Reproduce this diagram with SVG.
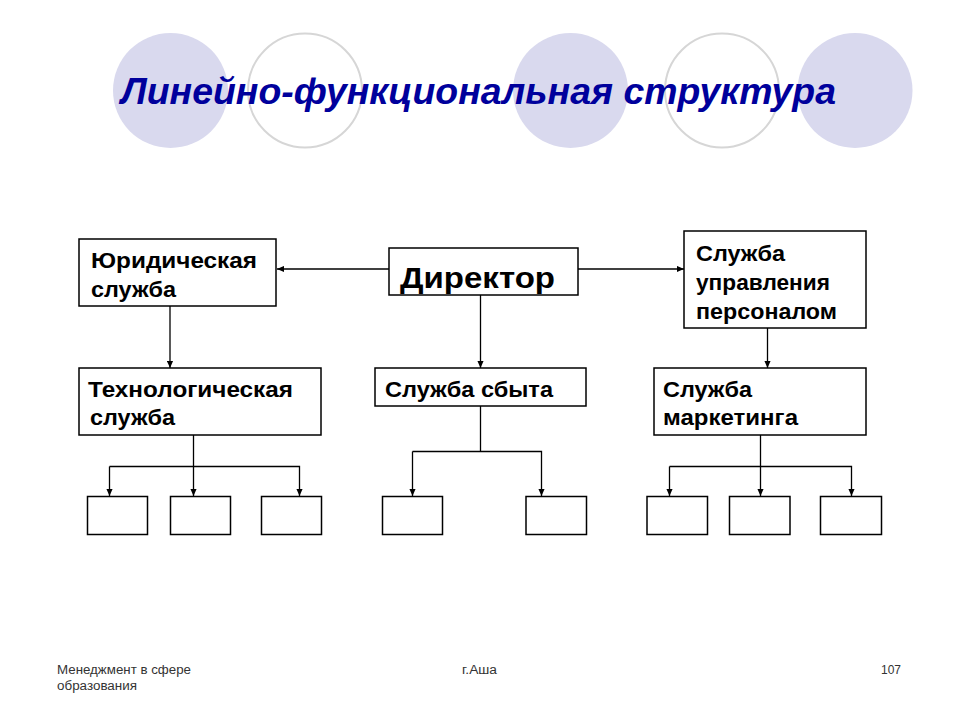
<svg xmlns="http://www.w3.org/2000/svg" width="960" height="720" viewBox="0 0 960 720">
<style>
.bg{fill:#ffffff}
.dot{fill:#d9d9ee}
.ring{fill:#ffffff;stroke:#d6d6d6;stroke-width:2}
.title{font-family:"Liberation Sans",Arial,sans-serif;font-weight:bold;font-style:italic;font-size:36px;fill:#00009c}
.box{fill:#ffffff;stroke:#000000;stroke-width:1.5}
.lbl{font-family:"Liberation Sans",Arial,sans-serif;font-weight:bold;font-size:22px;fill:#000000}
.big{font-size:30px}
.con{fill:none;stroke:#000000;stroke-width:1.3}
.foot{font-family:"Liberation Sans",Arial,sans-serif;font-size:12px;fill:#333333}
</style>
<defs>
<marker id="ah" viewBox="0 0 8 8" refX="8" refY="4" markerWidth="7" markerHeight="7" markerUnits="userSpaceOnUse" orient="auto">
<path d="M0,0.5 L8,4 L0,7.5 z" fill="#000000"/>
</marker>
</defs>
<rect class="bg" x="0" y="0" width="960" height="720"/>
<g id="decor">
<ellipse class="dot" cx="170.5" cy="90.5" rx="57.5" ry="57.5"/>
<ellipse class="ring" cx="305" cy="90.5" rx="57" ry="57"/>
<ellipse class="dot" cx="570.5" cy="90.5" rx="57.5" ry="57.5"/>
<ellipse class="ring" cx="722" cy="90.5" rx="57" ry="57"/>
<ellipse class="dot" cx="855" cy="90.5" rx="57.5" ry="57.5"/>
</g>
<text id="title" class="title" x="121" y="104" textLength="715" lengthAdjust="spacingAndGlyphs">Линейно-функциональная структура</text>
<g id="connectors">
<line class="con" x1="389" y1="269" x2="277" y2="269" marker-end="url(#ah)"/>
<line class="con" x1="578" y1="269" x2="684" y2="269" marker-end="url(#ah)"/>
<line class="con" x1="170" y1="306" x2="170" y2="368" marker-end="url(#ah)"/>
<line class="con" x1="480.5" y1="295" x2="480.5" y2="368" marker-end="url(#ah)"/>
<line class="con" x1="767.5" y1="328" x2="767.5" y2="368" marker-end="url(#ah)"/>
<line class="con" x1="193.5" y1="435" x2="193.5" y2="496" marker-end="url(#ah)"/>
<path class="con" d="M109.5,466.5 H299.5 V496" marker-end="url(#ah)"/>
<line class="con" x1="109.5" y1="466.5" x2="109.5" y2="496" marker-end="url(#ah)"/>
<path class="con" d="M480.5,406 V451.5"/>
<path class="con" d="M412.5,451.5 H541.5 V496" marker-end="url(#ah)"/>
<line class="con" x1="412.5" y1="451.5" x2="412.5" y2="496" marker-end="url(#ah)"/>
<line class="con" x1="760.5" y1="435" x2="760.5" y2="496" marker-end="url(#ah)"/>
<path class="con" d="M669.5,466.5 H851.5 V496" marker-end="url(#ah)"/>
<line class="con" x1="669.5" y1="466.5" x2="669.5" y2="496" marker-end="url(#ah)"/>
</g>
<g id="director">
<rect class="box" x="389" y="248" width="189" height="47"/>
<text class="lbl big" x="400" y="288" textLength="155" lengthAdjust="spacingAndGlyphs">Директор</text>
</g>
<g id="legal">
<rect class="box" x="79" y="239" width="197" height="67"/>
<text class="lbl" x="91" y="268" textLength="166" lengthAdjust="spacingAndGlyphs">Юридическая</text>
<text class="lbl" x="91" y="297" textLength="85" lengthAdjust="spacingAndGlyphs">служба</text>
</g>
<g id="hr">
<rect class="box" x="684" y="231" width="182" height="97"/>
<text class="lbl" x="696" y="261" textLength="89" lengthAdjust="spacingAndGlyphs">Служба</text>
<text class="lbl" x="696" y="290" textLength="134" lengthAdjust="spacingAndGlyphs">управления</text>
<text class="lbl" x="696" y="319" textLength="141" lengthAdjust="spacingAndGlyphs">персоналом</text>
</g>
<g id="tech">
<rect class="box" x="79" y="368" width="242" height="67"/>
<text class="lbl" x="88" y="397" textLength="205" lengthAdjust="spacingAndGlyphs">Технологическая</text>
<text class="lbl" x="90" y="425" textLength="85" lengthAdjust="spacingAndGlyphs">служба</text>
</g>
<g id="sales">
<rect class="box" x="375" y="368" width="211" height="38"/>
<text class="lbl" x="385" y="397" textLength="168" lengthAdjust="spacingAndGlyphs">Служба сбыта</text>
</g>
<g id="marketing">
<rect class="box" x="654" y="368" width="212" height="67"/>
<text class="lbl" x="663" y="397" textLength="89" lengthAdjust="spacingAndGlyphs">Служба</text>
<text class="lbl" x="663" y="425" textLength="135" lengthAdjust="spacingAndGlyphs">маркетинга</text>
</g>
<g id="sub1"><rect class="box" x="87.5" y="496.5" width="60" height="38"/></g>
<g id="sub2"><rect class="box" x="170.5" y="496.5" width="60" height="38"/></g>
<g id="sub3"><rect class="box" x="261.5" y="496.5" width="60" height="38"/></g>
<g id="sub4"><rect class="box" x="382.5" y="496.5" width="60" height="38"/></g>
<g id="sub5"><rect class="box" x="526" y="496.5" width="60.5" height="38"/></g>
<g id="sub6"><rect class="box" x="647" y="496.5" width="60.5" height="38"/></g>
<g id="sub7"><rect class="box" x="729.5" y="496.5" width="60.5" height="38"/></g>
<g id="sub8"><rect class="box" x="820.5" y="496.5" width="61" height="38"/></g>
<g id="footer">
<text class="foot" x="57" y="674" textLength="134" lengthAdjust="spacingAndGlyphs">Менеджмент в сфере</text>
<text class="foot" x="57" y="690" textLength="80" lengthAdjust="spacingAndGlyphs">образования</text>
<text class="foot" x="462" y="674" textLength="35" lengthAdjust="spacingAndGlyphs">г.Аша</text>
<text class="foot" x="901" y="674" text-anchor="end">107</text>
</g>
</svg>
